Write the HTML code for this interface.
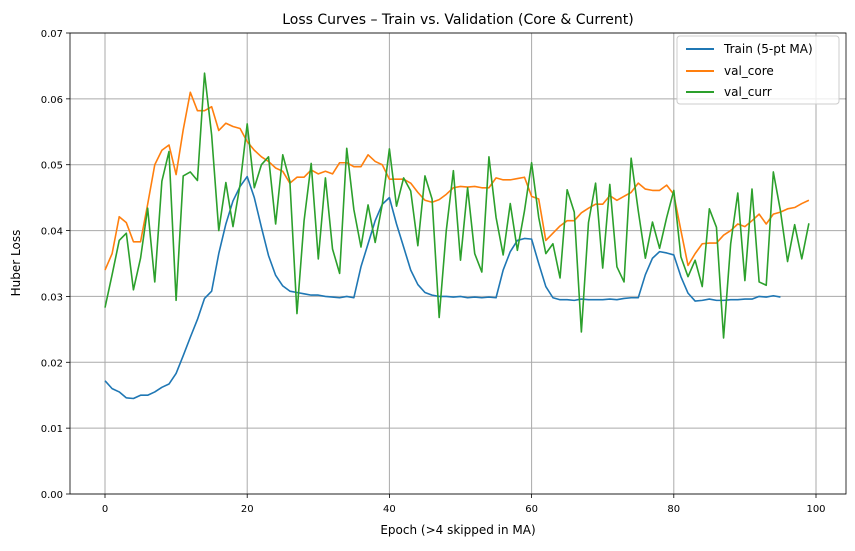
<!DOCTYPE html>
<html><head><meta charset="utf-8"><style>
body{margin:0;background:#fff;font-family:"DejaVu Sans","Liberation Sans",sans-serif}
svg text{font-family:"DejaVu Sans","Liberation Sans",sans-serif;fill:#000}
</style></head><body>
<svg id="chart" width="855" height="547" xmlns="http://www.w3.org/2000/svg">
<rect width="855" height="547" fill="#fff"/>
<text x="458" y="24" font-size="14" text-anchor="middle">Loss Curves – Train vs. Validation (Core &amp; Current)</text>
<g id="grid"></g><g id="series"></g><g id="axes"></g>
<text x="458" y="534" font-size="12" text-anchor="middle">Epoch (&gt;4 skipped in MA)</text>
<text transform="translate(20,263) rotate(-90)" font-size="12" text-anchor="middle">Huber Loss</text>
<g>
<rect x="677" y="36" width="162" height="68" fill="#fff" fill-opacity="0.8" stroke="#ccc" rx="3"/>
<g><line x1="686" y1="49" x2="714" y2="49" stroke="#1f77b4" stroke-width="2"/><text x="724" y="53" font-size="12">Train (5-pt MA)</text></g>
<g><line x1="686" y1="71" x2="714" y2="71" stroke="#ff7f0e" stroke-width="2"/><text x="724" y="75" font-size="12">val_core</text></g>
<g><line x1="686" y1="92" x2="714" y2="92" stroke="#2ca02c" stroke-width="2"/><text x="724" y="96" font-size="12">val_curr</text></g>
</g>
</svg>
<script>
const trainValues=[.0172,.0160,.0155,.0146,.0145,.0150,.0150,.0155,.0162,.0167,.0183,.0210,.0238,.0265,.0297,.0308,.0365,.0410,.0445,.0467,.0482,.0450,.0405,.0362,.0332,.0316,.0308,.0306,.0304,.0302,.0302,.0300,.0299,.0298,.0300,.0298,.0345,.0380,.0415,.0440,.0450,.0410,.0375,.0340,.0318,.0306,.0302,.0300,.0300,.0299,.0300,.0298,.0299,.0298,.0299,.0298,.0340,.0368,.0385,.0388,.0387,.0350,.0315,.0298,.0295,.0295,.0294,.0296,.0295,.0295,.0295,.0296,.0295,.0297,.0298,.0298,.0333,.0358,.0368,.0366,.0363,.0330,.0305,.0293,.0294,.0296,.0294,.0294,.0295,.0295,.0296,.0296,.0300,.0299,.0301,.0299];
const valCoreValues=[.0340,.0365,.0421,.0412,.0383,.0383,.0440,.0500,.0522,.0530,.0485,.0553,.0610,.0582,.0582,.0588,.0552,.0563,.0558,.0555,.0535,.0522,.0512,.0505,.0495,.0490,.0472,.0481,.0481,.0492,.0486,.0490,.0486,.0503,.0503,.0497,.0497,.0515,.0505,.0500,.0478,.0478,.0478,.0472,.0458,.0446,.0443,.0447,.0455,.0465,.0467,.0466,.0467,.0465,.0465,.0480,.0477,.0477,.0479,.0481,.0452,.0448,.0385,.0396,.0407,.0415,.0415,.0427,.0434,.0440,.0440,.0453,.0446,.0452,.0458,.0472,.0463,.0461,.0461,.0469,.0455,.0400,.0347,.0365,.0380,.0381,.0381,.0393,.0400,.0410,.0406,.0415,.0425,.0410,.0425,.0428,.0433,.0435,.0441,.0446];
const valCurrValues=[.0283,.0333,.0385,.0396,.0310,.0358,.0434,.0322,.0475,.0520,.0294,.0483,.0489,.0476,.0639,.0545,.0400,.0473,.0406,.0470,.0562,.0465,.0500,.0512,.0410,.0515,.0475,.0274,.0415,.0502,.0357,.0480,.0372,.0335,.0525,.0432,.0375,.0439,.0382,.0440,.0524,.0437,.0480,.0460,.0377,.0483,.0448,.0268,.0400,.0491,.0355,.0465,.0365,.0337,.0512,.0420,.0363,.0441,.0370,.0430,.0503,.0420,.0365,.0380,.0328,.0462,.0428,.0246,.0412,.0472,.0343,.0470,.0345,.0322,.0510,.0430,.0358,.0413,.0373,.0420,.0461,.0360,.0330,.0355,.0315,.0433,.0405,.0237,.0380,.0457,.0324,.0463,.0322,.0317,.0489,.0430,.0353,.0409,.0357,.0411];
const xTicks=[0,20,40,60,80,100];
const yTicks=[0,0.01,0.02,0.03,0.04,0.05,0.06,0.07];
const yTickLabels=["0.00","0.01","0.02","0.03","0.04","0.05","0.06","0.07"];
const L=70,R=846,T=33,B=494;
const xs=v=>105+v*(816-105)/100;
const ys=v=>B-v*(B-T)/0.07;
const NS="http://www.w3.org/2000/svg";
function mk(tag,attrs,parent){const e=document.createElementNS(NS,tag);for(const k in attrs)e.setAttribute(k,attrs[k]);parent.appendChild(e);return e;}
const grid=document.getElementById('grid'),axes=document.getElementById('axes'),ser=document.getElementById('series');
xTicks.forEach(t=>{
 const g=mk('line',{x1:xs(t),x2:xs(t),y1:T,y2:B,stroke:'#aaaaaa','stroke-width':1},grid);
 
 
 mk('line',{x1:xs(t),x2:xs(t),y1:B,y2:B+4,stroke:'#000','stroke-width':0.8},axes);
 const tx=mk('text',{x:xs(t),y:B+18,'font-size':10,'text-anchor':'middle'},axes);tx.textContent=t;
 
 
});
yTicks.forEach((t,i)=>{
 const g=mk('line',{x1:L,x2:R,y1:ys(t),y2:ys(t),stroke:'#aaaaaa','stroke-width':1},grid);
 
 
 mk('line',{x1:L-4,x2:L,y1:ys(t),y2:ys(t),stroke:'#000','stroke-width':0.8},axes);
 const tx=mk('text',{x:L-7,y:ys(t)+4,'font-size':10,'text-anchor':'end'},axes);tx.textContent=yTickLabels[i];
 
 
});
const frame=mk('rect',{x:L,y:T,width:R-L,height:B-T,fill:'none',stroke:'#000','stroke-width':0.8},axes);


function line(vals,color,name){
 const p=mk('polyline',{points:vals.map((v,i)=>xs(i)+','+ys(v)).join(' '),fill:'none',stroke:color,'stroke-width':1.6,'stroke-linejoin':'round'},ser);
 
 
}
line(trainValues,'#1f77b4','train-line');
line(valCoreValues,'#ff7f0e','val-core-line');
line(valCurrValues,'#2ca02c','val-curr-line');
</script>
</body></html>
